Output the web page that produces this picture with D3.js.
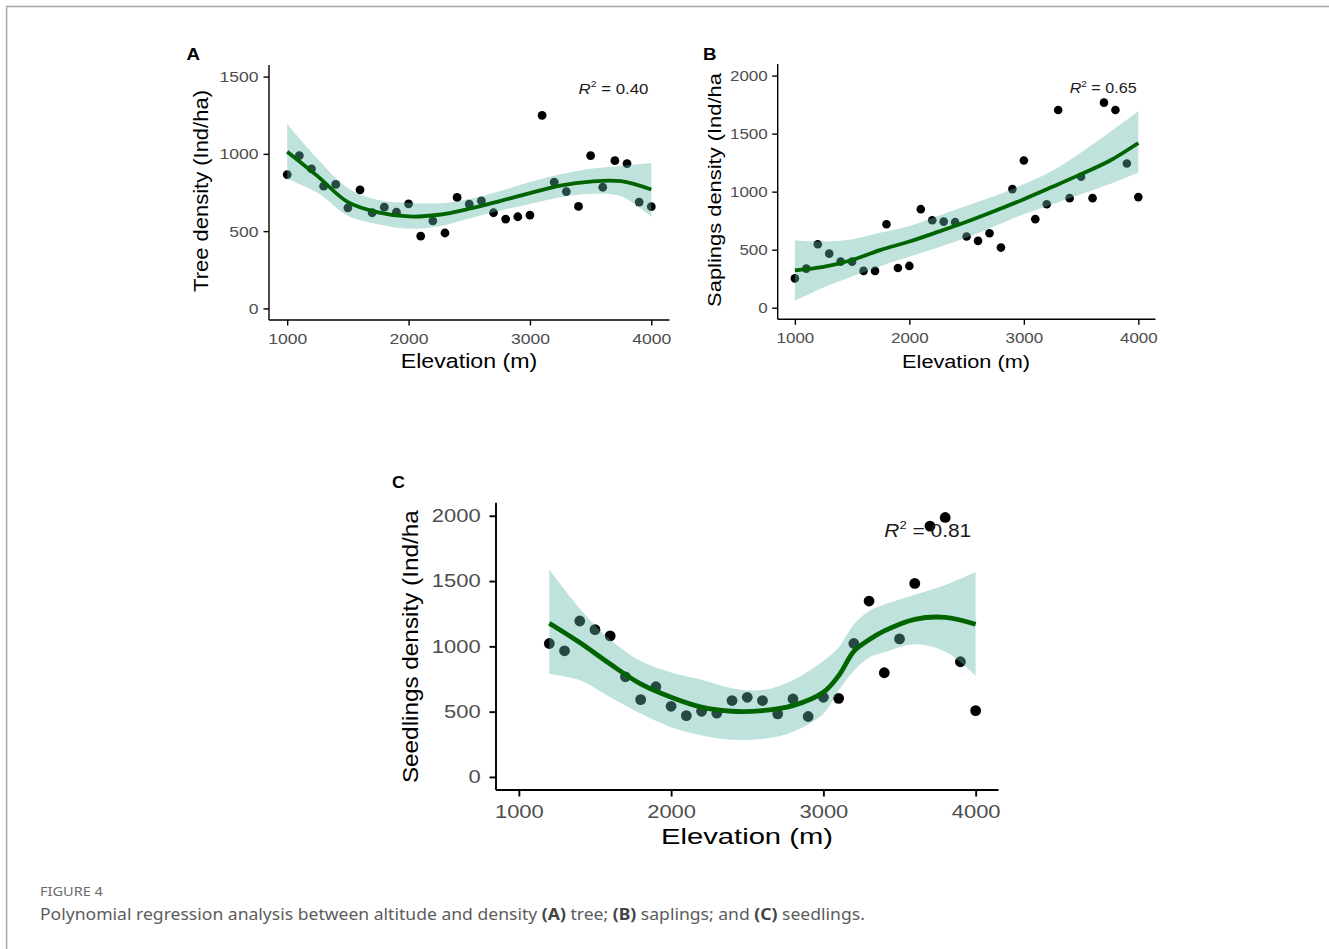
<!DOCTYPE html>
<html>
<head>
<meta charset="utf-8">
<script src="https://cdn.jsdelivr.net/npm/d3@7"></script>
<style>
html, body { margin: 0; padding: 0; background: #ffffff; }
svg { display: block; }
</style>
</head>
<body>
<svg id="chart" width="1329" height="949"></svg>
<script>
// ---------------- DATA ----------------
const elevation = [1000,1100,1200,1300,1400,1500,1600,1700,1800,1900,2000,2100,2200,2300,2400,2500,2600,2700,2800,2900,3000,3100,3200,3300,3400,3500,3600,3700,3800,3900,4000];
const treeDensity = [866,989,903,791,802,651,767,619,655,623,677,468,567,488,718,675,696,619,578,593,604,1249,817,756,660,989,784,956,937,688,658];
const saplingDensity = [253,337,547,466,397,397,317,317,719,342,360,849,754,742,737,613,576,642,518,1022,1269,763,892,1704,944,1128,944,1767,1704,1243,953];
const seedlingElevation = [1200,1300,1400,1500,1600,1700,1800,1900,2000,2100,2200,2300,2400,2500,2600,2700,2800,2900,3000,3100,3200,3300,3400,3500,3600,3700,3800,3900,4000];
const seedlingDensity = [1022,966,1194,1128,1080,767,592,691,541,470,503,488,585,610,585,483,597,463,610,602,1022,1347,798,1057,1482,1921,1987,882,508];

// fitted polynomial curves and confidence bands
const fitElevationAB = [1000,1250,1500,1750,2000,2250,2500,2750,3000,3250,3500,3750,4000];
const treeFit   = [1014,856,688,622,595,606,645,694,746,795,821,823,769];
const treeUpper = [1193,968,778,702,683,680,708,758,818,868,903,922,941];
const treeLower = [838,748,600,545,515,532,582,632,676,720,740,726,593];
const saplingFit   = [322,352,411,498,570,653,740,835,935,1042,1151,1266,1419];
const saplingUpper = [581,570,590,647,705,791,878,964,1065,1180,1338,1511,1692];
const saplingLower = [58,173,268,360,440,518,604,705,806,892,978,1065,1165];
const fitElevationC = [1200,1400,1600,1800,2000,2200,2400,2600,2800,3000,3100,3200,3300,3400,3600,3800,4000];
const seedlingFit   = [1177,1029,864,712,610,534,503,508,546,648,775,962,1050,1118,1207,1222,1169];
const seedlingUpper = [1588,1290,1050,888,800,745,680,665,740,889,991,1169,1271,1320,1395,1470,1570];
const seedlingLower = [788,740,610,485,381,318,285,290,345,483,661,813,915,955,1017,960,775];

const xTicks = [1000,2000,3000,4000];
const yTicksA = [0,500,1000,1500];
const yTicksBC = [0,500,1000,1500,2000];
const panelLetters = ["A","B","C"];
const xTitleText = "Elevation (m)";
const yTitleTexts = ["Tree density (Ind/ha)","Saplings density (Ind/ha","Seedlings density (Ind/ha"];
const r2Values = ["0.40","0.65","0.81"];
const r2Anchor = [[3400,1390],[3400,1850],[3400,1840]];
const figureLabel = "FIGURE 4";
const captionParts = [
  {t:"Polynomial regression analysis between altitude and density ", b:false},
  {t:"(A)", b:true}, {t:" tree; ", b:false},
  {t:"(B)", b:true}, {t:" saplings; and ", b:false},
  {t:"(C)", b:true}, {t:" seedlings.", b:false}
];

// ---------------- LAYOUT ----------------
const FONT = "'Liberation Sans', Arial, Helvetica, sans-serif";
const panels = [
  { pts:{x:elevation, y:treeDensity}, fit:{x:fitElevationAB, y:treeFit, lo:treeLower, hi:treeUpper},
    yTicks:yTicksA, yTitle:yTitleTexts[0], r2:r2Values[0], r2At:r2Anchor[0], letter:panelLetters[0],
    L:{ xRange:[269,669.5], yRange:[320,65], yDomain:[-75,1575], tickFont:15.4, tickScale:1.14, tickLen:5.5,
        yPad:5, xPad:7.5, axisW:1.4, lineW:3.8, r:4.4, titleFont:19.5,
        xTitle:[469,368.3,136.6], yTitle:[208,191,202], r2Font:15, r2W:70,
        letter:[186.5,59.5], letterFont:17, letterScale:1.1 } },
  { pts:{x:elevation, y:saplingDensity}, fit:{x:fitElevationAB, y:saplingFit, lo:saplingLower, hi:saplingUpper},
    yTicks:yTicksBC, yTitle:yTitleTexts[1], r2:r2Values[1], r2At:r2Anchor[1], letter:panelLetters[1],
    L:{ xRange:[777.7,1155.5], yRange:[319.3,64], yDomain:[-100,2100], tickFont:14.8, tickScale:1.145, tickLen:5.5,
        yPad:4.5, xPad:7.8, axisW:1.4, lineW:3.8, r:4.3, titleFont:18.5,
        xTitle:[966,368,128], yTitle:[721,190,234], r2Font:14.5, r2W:67,
        letter:[703,59.5], letterFont:17, letterScale:1.1 } },
  { pts:{x:seedlingElevation, y:seedlingDensity}, fit:{x:fitElevationC, y:seedlingFit, lo:seedlingLower, hi:seedlingUpper},
    yTicks:yTicksBC, yTitle:yTitleTexts[2], r2:r2Values[2], r2At:r2Anchor[2], letter:panelLetters[2],
    L:{ xRange:[496,998.5], yRange:[790,502.7], yDomain:[-100,2100], tickFont:18, tickScale:1.22, tickLen:6.5,
        yPad:8.8, xPad:9, axisW:1.9, lineW:4.8, r:5.4, titleFont:22.5,
        xTitle:[747,843.5,172], yTitle:[418,646.7,273], r2Font:18.5, r2W:87,
        letter:[392,488], letterFont:17, letterScale:1.05 } }
];

const svg = d3.select("#chart");

// page frame
svg.append("line").attr("x1",6).attr("x2",1329).attr("y1",6.6).attr("y2",6.6)
  .attr("stroke","#a8a8a8").attr("stroke-width",1.5);
svg.append("line").attr("x1",6.6).attr("x2",6.6).attr("y1",6).attr("y2",949)
  .attr("stroke","#a8a8a8").attr("stroke-width",1.5);

function stretch(sel, target, base) {
  const w = sel.node().getComputedTextLength();
  const s = w > 0 ? target / w : 1;
  sel.attr("transform", `${base} scale(${s},1)`);
}

panels.forEach(p => {
  const L = p.L;
  const x = d3.scaleLinear().domain([850,4150]).range(L.xRange);
  const y = d3.scaleLinear().domain(L.yDomain).range(L.yRange);
  const g = svg.append("g");

  // points (drawn under the confidence ribbon, as in the original)
  g.append("g").selectAll("circle")
    .data(p.pts.x.map((e,i) => [e, p.pts.y[i]]))
    .join("circle")
    .attr("cx", d => x(d[0])).attr("cy", d => y(d[1]))
    .attr("r", L.r).attr("fill", "#000000");

  const fitData = p.fit.x.map((e,i) => ({e, v:p.fit.y[i], lo:p.fit.lo[i], hi:p.fit.hi[i]}));
  g.append("path").datum(fitData)
    .attr("d", d3.area().x(d => x(d.e)).y0(d => y(d.lo)).y1(d => y(d.hi)).curve(d3.curveCatmullRom.alpha(0.5)))
    .attr("fill", "#61b7ab").attr("fill-opacity", 0.4);
  g.append("path").datum(fitData)
    .attr("d", d3.line().x(d => x(d.e)).y(d => y(d.v)).curve(d3.curveCatmullRom.alpha(0.5)))
    .attr("fill", "none").attr("stroke", "#006400").attr("stroke-width", L.lineW)
    .attr("stroke-linecap", "butt");

  // axes
  const xAxisY = L.yRange[0];
  const xAx = g.append("g").attr("transform", `translate(0,${xAxisY})`)
    .call(d3.axisBottom(x).tickValues(xTicks).tickFormat(d3.format("d")).tickSize(L.tickLen).tickSizeOuter(0).tickPadding(L.xPad));
  const yAx = g.append("g").attr("transform", `translate(${L.xRange[0]},0)`)
    .call(d3.axisLeft(y).tickValues(p.yTicks).tickFormat(d3.format("d")).tickSize(L.tickLen).tickSizeOuter(0).tickPadding(L.yPad));
  [xAx, yAx].forEach(a => {
    a.select(".domain").attr("stroke", "#000").attr("stroke-width", L.axisW);
    a.selectAll(".tick line").attr("stroke", "#000").attr("stroke-width", L.axisW);
    a.selectAll("text").attr("fill", "#4d4d4d").attr("font-family", FONT).attr("font-size", L.tickFont);
  });
  // horizontal stretch of the tick labels (the original raster is widened)
  yAx.selectAll(".tick text").each(function() {
    const t = d3.select(this); const xx = +t.attr("x");
    t.attr("x", 0).attr("transform", `translate(${xx},0) scale(${L.tickScale},1)`);
  });
  xAx.selectAll(".tick text").attr("transform", `scale(${L.tickScale},1)`);
  // extend axis lines to meet at the corner
  xAx.select(".domain").attr("d", `M${L.xRange[0]},0H${L.xRange[1]}`);
  yAx.select(".domain").attr("d", `M0,${L.yRange[0]}V${L.yRange[1]}`);

  // axis titles
  const xt = g.append("text").text(xTitleText)
    .attr("text-anchor", "middle").attr("font-family", FONT).attr("font-size", L.titleFont).attr("fill", "#000");
  stretch(xt, L.xTitle[2], `translate(${L.xTitle[0]},${L.xTitle[1]})`);
  const yt = g.append("text").text(p.yTitle)
    .attr("text-anchor", "middle").attr("font-family", FONT).attr("font-size", L.titleFont).attr("fill", "#000");
  stretch(yt, L.yTitle[2], `translate(${L.yTitle[0]},${L.yTitle[1]}) rotate(-90)`);

  // R^2 annotation
  const rt = g.append("text").attr("font-family", FONT).attr("font-size", L.r2Font).attr("fill", "#1a1a1a");
  rt.append("tspan").attr("font-style", "italic").text("R");
  rt.append("tspan").attr("font-size", L.r2Font * 0.62).attr("dy", -L.r2Font * 0.42).text("2");
  rt.append("tspan").attr("dy", L.r2Font * 0.42).text(" = " + p.r2);
  stretch(rt, L.r2W, `translate(${x(p.r2At[0])},${y(p.r2At[1])})`);

  // panel letter
  g.append("text").text(p.letter)
    .attr("font-family", FONT).attr("font-weight", "bold").attr("font-size", L.letterFont).attr("fill", "#000")
    .attr("transform", `translate(${L.letter[0]},${L.letter[1]}) scale(${L.letterScale},1)`);
});

// caption
const CAP_FONT = "'Noto Sans', 'Open Sans', sans-serif";
const fl = svg.append("text").text(figureLabel)
  .attr("font-family", CAP_FONT).attr("font-size", 12).attr("fill", "#6b6b6b");
stretch(fl, 63, "translate(40,895.5)");
const cap = svg.append("text").attr("font-family", CAP_FONT).attr("font-size", 15.5).attr("fill", "#5c5c5c");
captionParts.forEach(c => {
  cap.append("tspan").text(c.t).attr("font-weight", c.b ? "bold" : "normal").attr("fill", c.b ? "#444" : "#5c5c5c");
});
stretch(cap, 826, "translate(40,919.5)");
</script>
</body>
</html>
